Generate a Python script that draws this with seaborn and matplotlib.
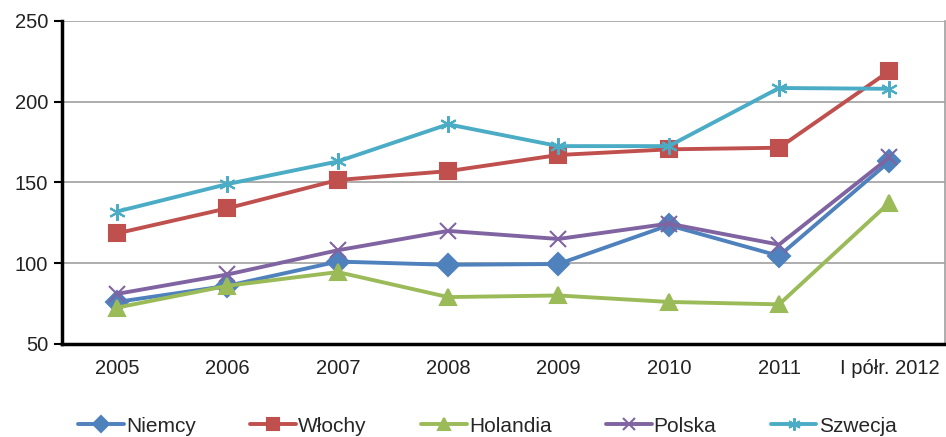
import numpy as np
import pandas as pd
import matplotlib.pyplot as plt
import seaborn as sns

# Data
years = ['2005', '2006', '2007', '2008', '2009', '2010', '2011', 'I półr. 2012']
niemcy = [76, 86, 101, 99, 99.5, 123.5, 104.5, 163]
wlochy = [118.5, 134, 151.5, 157, 167, 170.5, 171.5, 219]
holandia = [72.5, 86, 94.5, 79, 80, 76, 74.5, 137.5]
polska = [81, 93, 108, 120, 115, 124.5, 111.5, 165.5]
szwecja = [132, 149, 163, 186, 172.5, 172.5, 208.5, 208]

series = ['Niemcy', 'Włochy', 'Holandia', 'Polska', 'Szwecja']
colors = ['#4F81BD', '#C0504D', '#9BBB59', '#8064A2', '#4BACC6']
markers = ['D', 's', '^', 'x', (6, 2, 0)]

df = pd.DataFrame({'Niemcy': niemcy, 'Włochy': wlochy, 'Holandia': holandia,
                   'Polska': polska, 'Szwecja': szwecja})
df['pos'] = np.arange(len(years))

sns.set_style('white')
plt.rcParams['font.family'] = ['Liberation Sans', 'DejaVu Sans']

fig = plt.figure(figsize=(9.46, 4.37), dpi=100)
ax = fig.add_axes([0.0655, 0.213, 0.933, 0.739])

# Line plots, one per country
for name, col, mk in zip(series, colors, markers):
    sns.lineplot(data=df, x='pos', y=name, color=col, marker=mk, label=name,
                 linewidth=2.8, markersize=12 if mk == (6, 2, 0) else 11,
                 markeredgewidth=1.5, markeredgecolor=col, ax=ax)

ax.set_xlim(-0.5, len(years) - 0.5)
ax.set_ylim(50, 250)
ax.set_yticks([50, 100, 150, 200, 250])
ax.yaxis.grid(True, color='#A0A0A0', linewidth=1.2)
ax.set_axisbelow(True)

ax.set_xticks(np.arange(-0.5, len(years)), labels=[''] * (len(years) + 1))
ax.set_xticks(np.arange(len(years)), labels=years, minor=True)
ax.tick_params(axis='x', which='major', direction='out', length=6, width=1.5, color='black')
ax.tick_params(axis='x', which='minor', length=0, pad=11, labelsize=14.5, labelcolor='#222222')
ax.tick_params(axis='y', direction='out', length=6, width=1.5, color='black', labelsize=14.5,
               labelcolor='#222222', left=True, pad=4)

ax.set_xlabel('')
ax.set_ylabel('')
for s in ['left', 'bottom']:
    ax.spines[s].set_color('black')
    ax.spines[s].set_linewidth(2.5)
ax.spines['top'].set_visible(False)
ax.spines['right'].set_color('#A0A0A0')
ax.spines['right'].set_linewidth(1.2)

ax.legend(loc='center', bbox_to_anchor=(0.482, -0.255), ncol=5, frameon=False,
          fontsize=15, handlelength=2.2, columnspacing=2.6, handletextpad=0.1,
          markerscale=0.75)

plt.savefig('out.png', dpi=100)
